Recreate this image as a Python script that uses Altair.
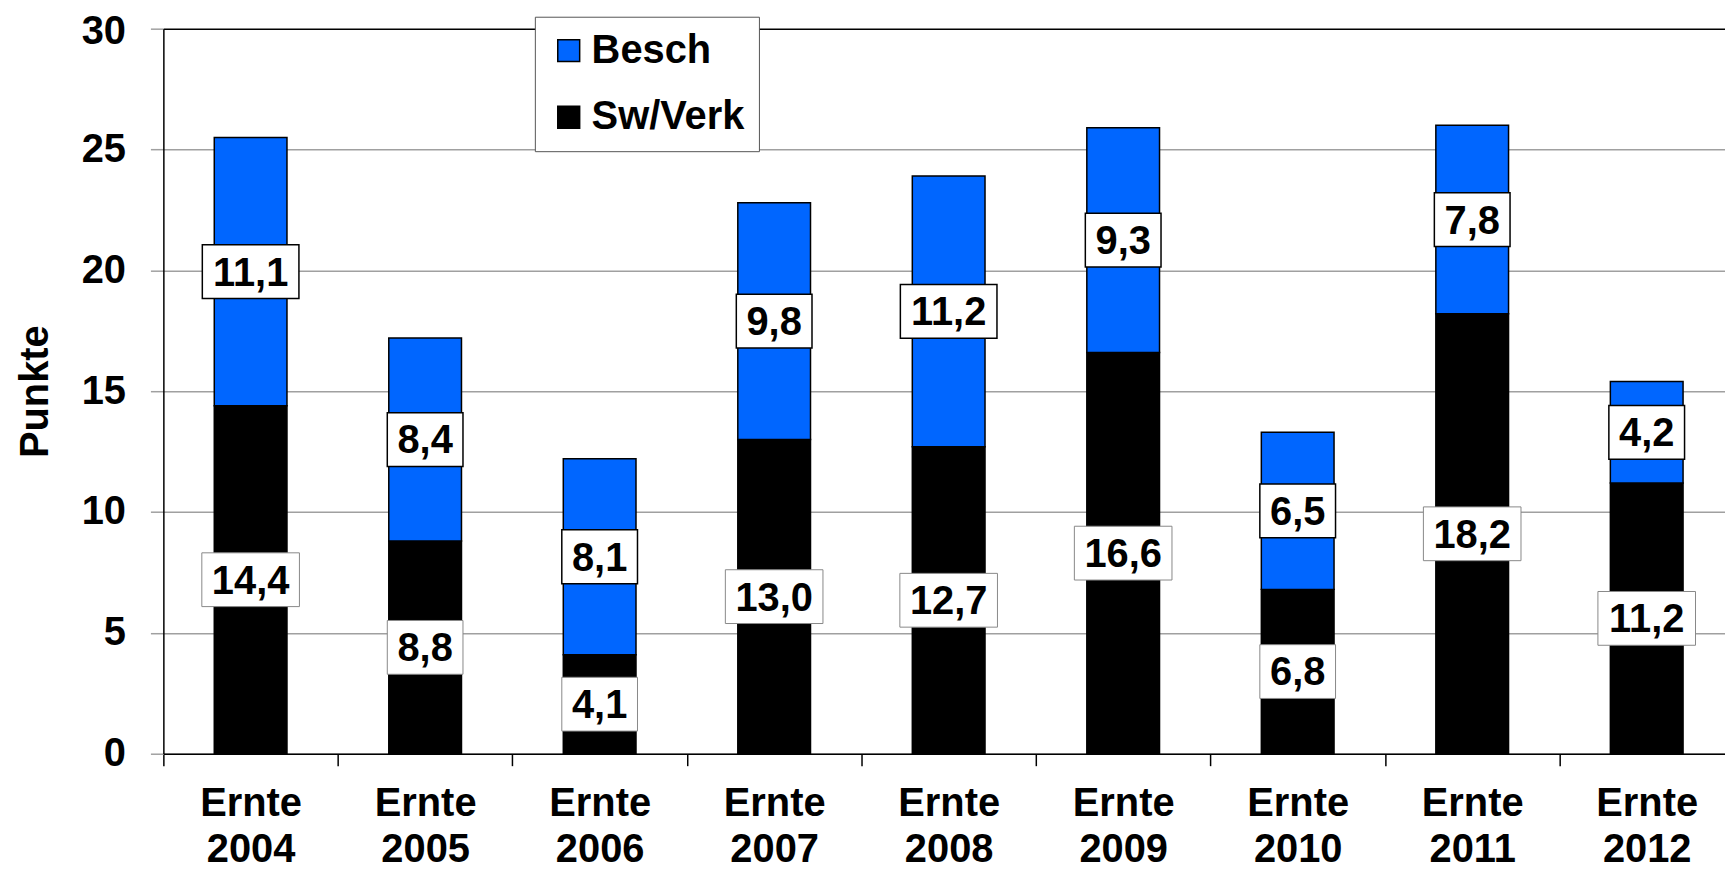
import altair as alt
import pandas as pd

years = ["2004", "2005", "2006", "2007", "2008", "2009", "2010", "2011", "2012"]
categories = [f"Ernte {y}" for y in years]
sw_verk = [14.4, 8.8, 4.1, 13.0, 12.7, 16.6, 6.8, 18.2, 11.2]
besch = [11.1, 8.4, 8.1, 9.8, 11.2, 9.3, 6.5, 7.8, 4.2]
series = ["Besch", "Sw/Verk"]
colors = ["#0066FF", "#000000"]
y_ticks = [0, 5, 10, 15, 20, 25, 30]

FONT = "Liberation Sans, Arial, Helvetica, sans-serif"


def fmt(v):
    return f"{v:.1f}".replace(".", ",")


rows = []
for c, s, b in zip(categories, sw_verk, besch):
    rows.append(dict(cat=c, series="Sw/Verk", bottom=0.0, top=s, mid=s / 2, label=fmt(s)))
    rows.append(dict(cat=c, series="Besch", bottom=s, top=s + b, mid=s + b / 2, label=fmt(b)))
df = pd.DataFrame(rows)
df["wide"] = df["label"].str.len() > 3

x_scale = alt.Scale(range=[0, 1577], paddingInner=0, paddingOuter=0)

x_enc = alt.X(
    "cat:N",
    sort=categories,
    scale=x_scale,
    axis=alt.Axis(
        title=None,
        labelExpr="split(datum.label, ' ')",
        labelFont=FONT,
        labelFontSize=40,
        labelFontWeight="bold",
        labelColor="black",
        labelAngle=0,
        labelBaseline="top",
        labelLineHeight=46,
        labelPadding=18,
        labelLimit=400,
        tickSize=12,
        tickBand="extent",
        tickColor="black",
        tickWidth=1.5,
        domainColor="black",
        domainWidth=1.5,
        grid=False,
    ),
)

y_axis = alt.Axis(
    values=y_ticks,
    title="Punkte",
    titleFont=FONT,
    titleFontSize=40,
    titleFontWeight="bold",
    titleColor="black",
    titleAngle=270,
    titleX=-128,
    titleY=364,
    titleAlign="center",
    titleBaseline="middle",
    labelFont=FONT,
    labelFontSize=40,
    labelFontWeight="bold",
    labelColor="black",
    labelPadding=25,
    labelOffset={"expr": "datum.value == 30 ? 3 : 0"},
    tickSize=13,
    tickColor="#a0a0a0",
    tickWidth=1.5,
    domainColor="black",
    domainWidth=1.5,
    grid=True,
    gridColor={"expr": "datum.value == 30 ? '#000000' : '#a0a0a0'"},
    gridWidth=1.5,
)
y_scale = alt.Scale(domain=[0, 30], nice=False)

base = alt.Chart(df)

bars = base.mark_bar(width=73, stroke="black", strokeWidth=1.5).encode(
    x=x_enc,
    y=alt.Y("top:Q", scale=y_scale, axis=y_axis),
    y2=alt.Y2("bottom:Q"),
    color=alt.Color(
        "series:N",
        scale=alt.Scale(domain=series, range=colors),
        legend=alt.Legend(
            title=None,
            orient="none",
            legendX=373,
            legendY=-12,
            symbolType="square",
            symbolSize=484,
            symbolStrokeColor="black",
            symbolStrokeWidth=1.5,
            labelFont=FONT,
            labelFontSize=40,
            labelFontWeight="bold",
            labelColor="black",
            labelLimit=400,
            labelOffset=3,
            symbolOffset=0,
            padding=14,
            rowPadding=27,
            strokeColor="#555555",
            fillColor="white",
        ),
    ),
)


def boxes(series_name, wide, width, stroke, sw):
    return (
        base.transform_filter(
            f"datum.series == '{series_name}' && datum.wide == {'true' if wide else 'false'}"
        )
        .mark_bar(width=width, yOffset=-27, y2Offset=27, fill="white", stroke=stroke, strokeWidth=sw)
        .encode(
            x=alt.X("cat:N", sort=categories, scale=x_scale),
            y=alt.Y("mid:Q", scale=y_scale),
            y2=alt.Y2("mid:Q"),
        )
    )


box_layers = [
    boxes("Besch", True, 97, "black", 1.5),
    boxes("Besch", False, 76, "black", 1.5),
    boxes("Sw/Verk", True, 98, "#888888", 1),
    boxes("Sw/Verk", False, 76, "#888888", 1),
]

texts = base.mark_text(
    font=FONT, fontSize=40, fontWeight="bold", color="black", baseline="middle", dy=2
).encode(
    x=alt.X("cat:N", sort=categories, scale=x_scale),
    y=alt.Y("mid:Q", scale=y_scale),
    text="label:N",
)

chart = (
    alt.layer(bars, *box_layers, texts)
    .properties(
        width=1566,
        height=728,
        autosize=alt.AutoSizeParams(type="none"),
        padding={"left": 156, "top": 19, "right": 2, "bottom": 117},
    )
    .configure_view(stroke=None)
)

chart.save("out.html", embed_options={"renderer": "svg", "actions": False})
